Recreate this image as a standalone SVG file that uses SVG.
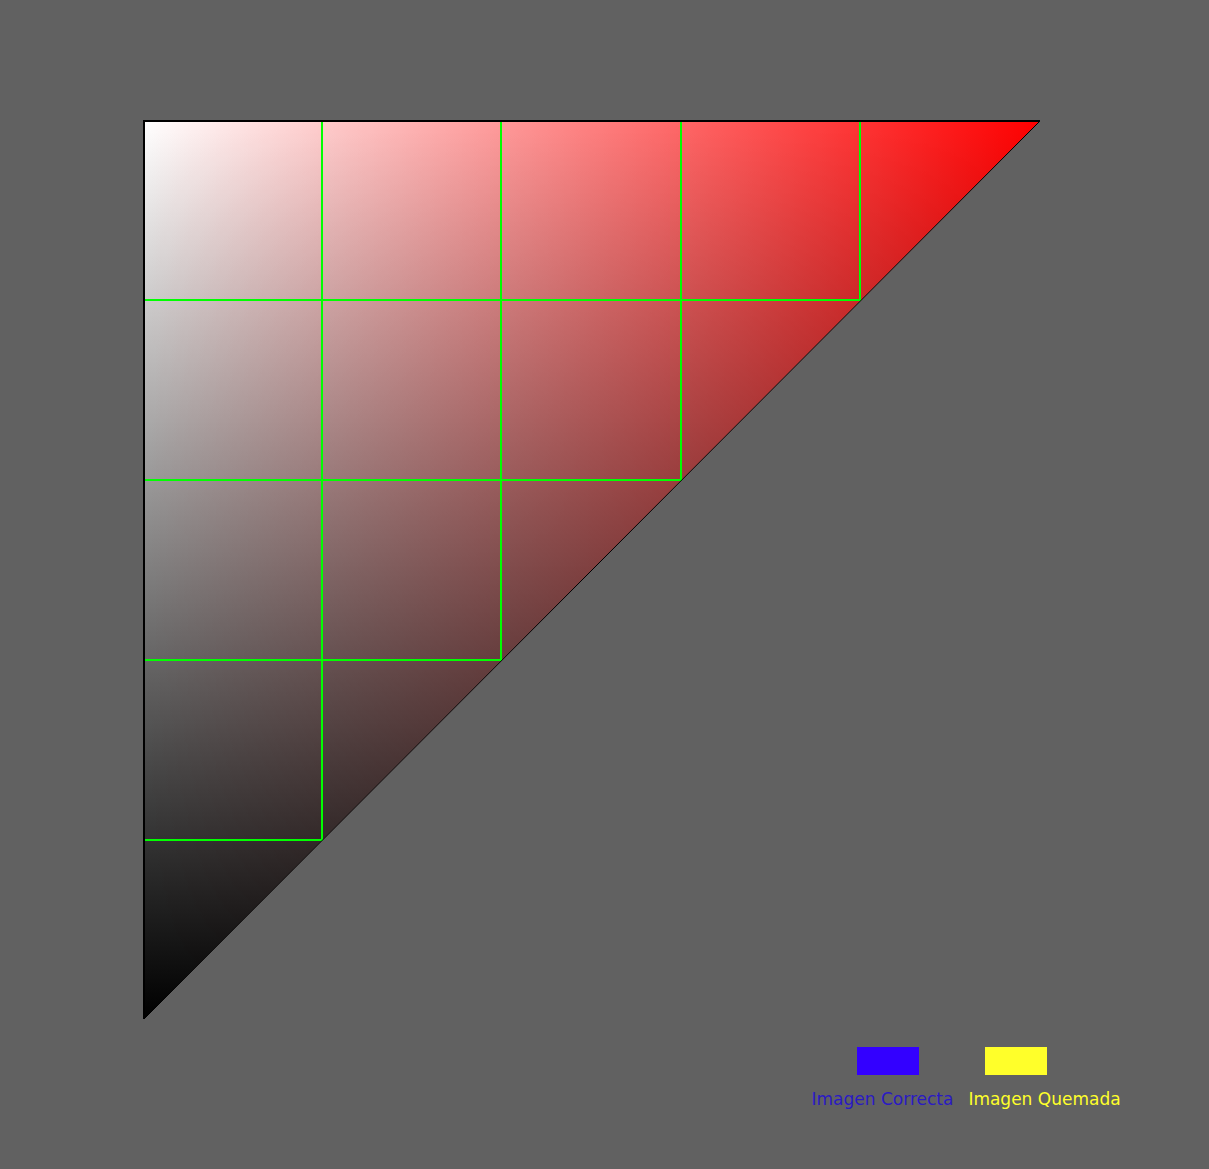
<svg xmlns="http://www.w3.org/2000/svg" width="1209" height="1169" viewBox="0 0 1209 1169">
<style>
.grid{stroke:#00ff00;stroke-width:2;fill:none}
.lbl{font-family:"DejaVu Sans",sans-serif;font-size:17px;text-anchor:middle}
</style>
<defs>
<linearGradient id="horiz" gradientUnits="userSpaceOnUse" x1="144" y1="0" x2="1040" y2="0">
<stop offset="0" stop-color="#ffffff"/><stop offset="1" stop-color="#ff0000"/>
</linearGradient>
<linearGradient id="vert" gradientUnits="userSpaceOnUse" x1="0" y1="121" x2="0" y2="1019">
<stop offset="0" stop-color="#ffffff"/><stop offset="1" stop-color="#000000"/>
</linearGradient>
</defs>
<rect width="1209" height="1169" fill="#616161"/>
<g id="triangle" style="isolation:isolate">
<polygon points="144,121 1040,121 144,1019" fill="url(#horiz)"/>
<polygon points="144,121 1040,121 144,1019" fill="url(#vert)" style="mix-blend-mode:multiply"/>
</g>
<g id="grid">
<line class="grid" x1="322" y1="121" x2="322" y2="840"/>
<line class="grid" x1="501" y1="121" x2="501" y2="660"/>
<line class="grid" x1="681" y1="121" x2="681" y2="481"/>
<line class="grid" x1="860" y1="121" x2="860" y2="300"/>
<line class="grid" x1="145" y1="300" x2="861" y2="300"/>
<line class="grid" x1="145" y1="480" x2="682" y2="480"/>
<line class="grid" x1="145" y1="660" x2="502" y2="660"/>
<line class="grid" x1="145" y1="840" x2="323" y2="840"/>
</g>
<g id="outline">
<polyline points="1040,121 144,1019" stroke="#000" stroke-width="1" fill="none"/>
<polyline points="144,1019 144,121 1040,121" stroke="#000" stroke-width="2" fill="none"/>
</g>
<g id="legend-correcta">
<rect x="857" y="1047" width="62" height="28" fill="#3300ff"/>
<text class="lbl" x="882.5" y="1105" fill="#2a1ac4">Imagen Correcta</text>
</g>
<g id="legend-quemada">
<rect x="985" y="1047" width="62" height="28" fill="#ffff2a"/>
<text class="lbl" x="1044.5" y="1105" fill="#ffff2a">Imagen Quemada</text>
</g>
</svg>
